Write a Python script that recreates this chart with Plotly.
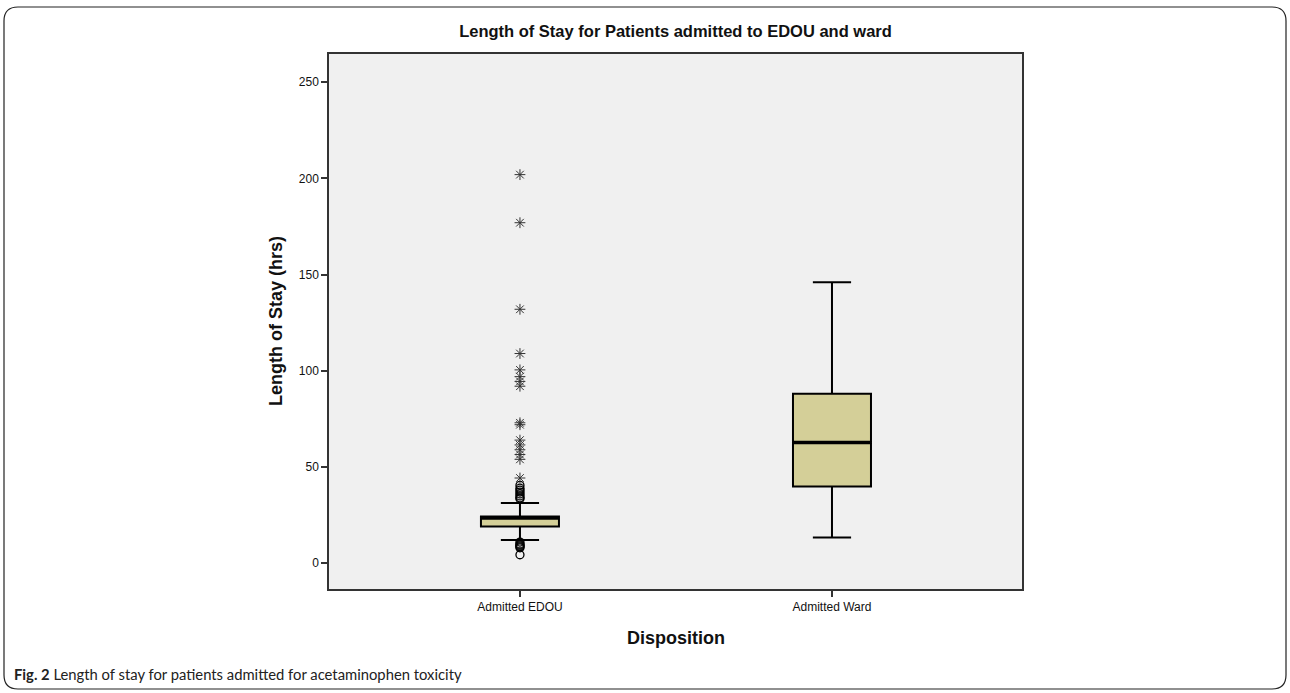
import plotly.graph_objects as go

# ---------------- data ----------------
categories = ["Admitted EDOU", "Admitted Ward"]
q1 = [19.1, 39.9]
median = [23.5, 62.8]
q3 = [24.3, 88.1]
lower_whisker = [12.1, 13.4]
upper_whisker = [31.3, 146.1]

# EDOU extreme outliers (asterisks, > 3 IQR)
edou_extremes = [202, 177, 132, 109, 100.5, 97, 94.5, 92, 73, 72,
                 64, 61.5, 59, 56.5, 54, 44.3]
# EDOU mild outliers (circles, 1.5 - 3 IQR)
edou_mild = [40.5, 39, 38, 37, 36, 35, 34, 33.5,
             11, 10, 9.5, 9, 8.5, 8, 4.4]

y_ticks = [0, 50, 100, 150, 200, 250]

# ---------------- layout geometry (pixels) ----------------
W, H = 1290, 693
ML, MR, MT, MB = 329, 268, 54, 104
PW, PH = W - ML - MR, H - MT - MB

def px(x):
    return (x - ML) / PW

def py(y):
    return (H - MB - y) / PH

FILL = "#D4CF98"
TXT = "#111111"
FONT = "Liberation Sans, Arial, sans-serif"

fig = go.Figure()

# main boxes
fig.add_trace(go.Box(
    x=categories, q1=q1, median=median, q3=q3,
    lowerfence=lower_whisker, upperfence=upper_whisker,
    fillcolor=FILL, line=dict(color="#000000", width=2),
    width=0.25, whiskerwidth=0.49, boxpoints=False,
    showlegend=False, hoverinfo="skip"))

# thick median lines (zero-height boxes)
fig.add_trace(go.Box(
    x=categories, q1=median, median=median, q3=median,
    lowerfence=median, upperfence=median,
    fillcolor="rgba(0,0,0,0)", line=dict(color="#000000", width=3.5),
    width=0.25, whiskerwidth=0, boxpoints=False,
    showlegend=False, hoverinfo="skip"))

# mild outliers
fig.add_trace(go.Scatter(
    x=[categories[0]] * len(edou_mild), y=edou_mild, mode="markers",
    marker=dict(symbol="circle-open", size=8, color="#000000",
                line=dict(width=1.3, color="#000000")),
    showlegend=False, hoverinfo="skip"))

# extreme outliers
fig.add_trace(go.Scatter(
    x=[categories[0]] * len(edou_extremes), y=edou_extremes, mode="markers",
    marker=dict(symbol="asterisk-open", size=9, color="#333333",
                line=dict(width=1, color="#333333")),
    showlegend=False, hoverinfo="skip"))

# rounded outer frame
x0, x1, y0, y1, r = 4, 1286, 7, 689, 14
path = (f"M {px(x0 + r)},{py(y0)} L {px(x1 - r)},{py(y0)} "
        f"Q {px(x1)},{py(y0)} {px(x1)},{py(y0 + r)} "
        f"L {px(x1)},{py(y1 - r)} Q {px(x1)},{py(y1)} {px(x1 - r)},{py(y1)} "
        f"L {px(x0 + r)},{py(y1)} Q {px(x0)},{py(y1)} {px(x0)},{py(y1 - r)} "
        f"L {px(x0)},{py(y0 + r)} Q {px(x0)},{py(y0)} {px(x0 + r)},{py(y0)} Z")

fig.update_layout(
    width=W, height=H,
    margin=dict(l=ML, r=MR, t=MT, b=MB, pad=0),
    paper_bgcolor="#FFFFFF", plot_bgcolor="#F0F0F0",
    font=dict(family=FONT, color=TXT, size=12),
    title=dict(text="<b>Length of Stay for Patients admitted to EDOU and ward</b>",
               x=0.5, xref="paper", xanchor="center",
               y=1 - 31 / H, yref="container", yanchor="middle",
               font=dict(family=FONT, size=16.5, color=TXT)),
    xaxis=dict(type="category", categoryorder="array", categoryarray=categories,
               range=[-0.612, 1.609], showgrid=False, zeroline=False,
               showline=True, linecolor="#333333", linewidth=1.5, mirror=True,
               ticks="outside", ticklen=6, tickcolor="#333333", tickwidth=1.5,
               tickfont=dict(family=FONT, size=12, color=TXT)),
    yaxis=dict(range=[-13.4, 264.7], tickvals=y_ticks, showgrid=False,
               zeroline=False, showline=True, linecolor="#333333",
               linewidth=1.5, mirror=True, ticks="outside", ticklen=6,
               tickcolor="#333333", tickwidth=1.5,
               tickfont=dict(family=FONT, size=12, color=TXT)),
    shapes=[dict(type="path", path=path, xref="paper", yref="paper",
                 line=dict(color="#222222", width=1.2),
                 fillcolor="rgba(0,0,0,0)", layer="below")],
    annotations=[
        dict(text="<b>Length of Stay (hrs)</b>", textangle=-90,
             x=px(276), y=py(321), xref="paper", yref="paper",
             xanchor="center", yanchor="middle", showarrow=False,
             font=dict(family=FONT, size=18, color=TXT)),
        dict(text="<b>Disposition</b>",
             x=px(675.5), y=py(638), xref="paper", yref="paper",
             xanchor="center", yanchor="middle", showarrow=False,
             font=dict(family=FONT, size=18, color=TXT)),
        dict(text="<b>Fig. 2</b> Length of stay for patients admitted for acetaminophen toxicity",
             x=px(12), y=py(674), xref="paper", yref="paper",
             xanchor="left", yanchor="middle", showarrow=False,
             font=dict(family="Lato, Open Sans, sans-serif", size=14.8, color="#222222")),
    ],
)

fig.write_html("out.html",
               config={"displayModeBar": False},
               post_script="document.body.style.margin='0px';document.body.style.overflow='hidden';")
